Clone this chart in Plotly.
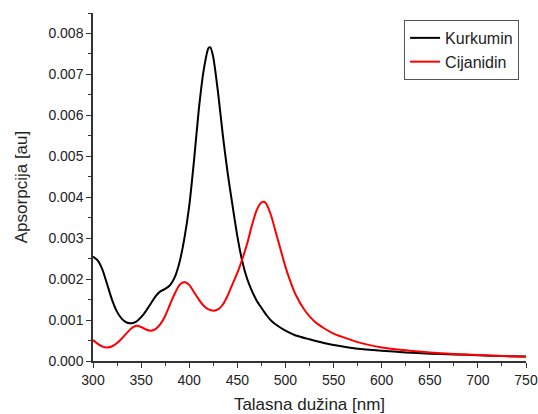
import plotly.graph_objects as go

# Kurkumin (black)
k_nm = [300, 305, 310, 315, 320, 325, 330, 335, 340, 345, 350, 355, 360, 365, 370, 375,
        380, 385, 390, 395, 400, 405, 410, 415, 420, 422, 425, 430, 435, 440, 445, 450,
        455, 460, 465, 470, 475, 480, 485, 490, 500, 510, 525, 540, 555, 575, 600, 625, 650,
        675, 700, 725, 750]
k_abs = [2.55, 2.45, 2.22, 1.85, 1.48, 1.20, 1.03, 0.94, 0.92, 0.96, 1.07, 1.22, 1.40, 1.58,
         1.70, 1.76, 1.85, 2.05, 2.42, 3.00, 3.78, 4.90, 6.15, 7.10, 7.64, 7.66, 7.42, 6.55,
         5.50, 4.58, 3.80, 3.05, 2.45, 2.02, 1.72, 1.48, 1.30, 1.13, 0.99, 0.89, 0.74, 0.63,
         0.53, 0.44, 0.37, 0.30, 0.25, 0.21, 0.18, 0.16, 0.14, 0.12, 0.11]

# Cijanidin (red)
c_nm = [300, 305, 310, 315, 320, 325, 330, 335, 340, 345, 350, 355, 360, 365, 370, 375,
        380, 385, 390, 395, 400, 405, 410, 415, 420, 425, 430, 435, 440, 445, 450, 455,
        460, 465, 470, 475, 478, 480, 485, 490, 495, 500, 505, 510, 520, 530, 540, 550,
        565, 580, 600, 625, 650, 675, 700, 725, 750]
c_abs = [0.51, 0.42, 0.35, 0.33, 0.36, 0.44, 0.55, 0.68, 0.80, 0.86, 0.83, 0.77, 0.74, 0.78,
         0.90, 1.10, 1.38, 1.65, 1.86, 1.93, 1.86, 1.68, 1.50, 1.35, 1.26, 1.23, 1.26, 1.38,
         1.60, 1.88, 2.15, 2.48, 2.85, 3.30, 3.68, 3.87, 3.89, 3.84, 3.56, 3.14, 2.72, 2.30,
         1.95, 1.65, 1.24, 0.97, 0.80, 0.67, 0.54, 0.43, 0.33, 0.26, 0.21, 0.17, 0.145, 0.12,
         0.105]

scale = 1e-3

fig = go.Figure()
fig.add_trace(go.Scatter(x=k_nm, y=[v * scale for v in k_abs], mode="lines", name="Kurkumin",
                         line=dict(color="#000000", width=2, shape="spline", smoothing=0.6)))
fig.add_trace(go.Scatter(x=c_nm, y=[v * scale for v in c_abs], mode="lines", name="Cijanidin",
                         line=dict(color="#FF0000", width=2, shape="spline", smoothing=0.6)))

axis_common = dict(showline=True, linecolor="#333333", linewidth=1.5, ticks="outside",
                   ticklen=5, tickwidth=1.2, tickcolor="#333333", showgrid=False,
                   zeroline=False, mirror=False, automargin=False,
                   tickfont=dict(family="Liberation Sans, Arial, sans-serif", size=14, color="#222222"))

fig.update_layout(
    width=538, height=414,
    margin=dict(l=93, r=12, t=13, b=53),
    paper_bgcolor="white", plot_bgcolor="white",
    font=dict(family="Liberation Sans, Arial, sans-serif", color="#222222"),
    xaxis=dict(range=[300, 750], dtick=50, tick0=300,
               minor=dict(ticks="outside", ticklen=3, dtick=25, tickcolor="#333333"),
               title=dict(text="Talasna dužina [nm]", font=dict(size=17), standoff=12),
               **axis_common),
    yaxis=dict(range=[0, 0.0085], dtick=0.001, tick0=0, tickformat=".3f",
               minor=dict(ticks="outside", ticklen=3, dtick=0.0005, tickcolor="#333333"),
               title=dict(text="Apsorpcija [au]", font=dict(size=17), standoff=16),
               **axis_common),
    legend=dict(x=0.984, xanchor="right", y=0.98, yanchor="top",
                bordercolor="#555555", borderwidth=1, bgcolor="white",
                font=dict(size=16), tracegroupgap=0),
    showlegend=True,
)

fig.write_html("out.html")
